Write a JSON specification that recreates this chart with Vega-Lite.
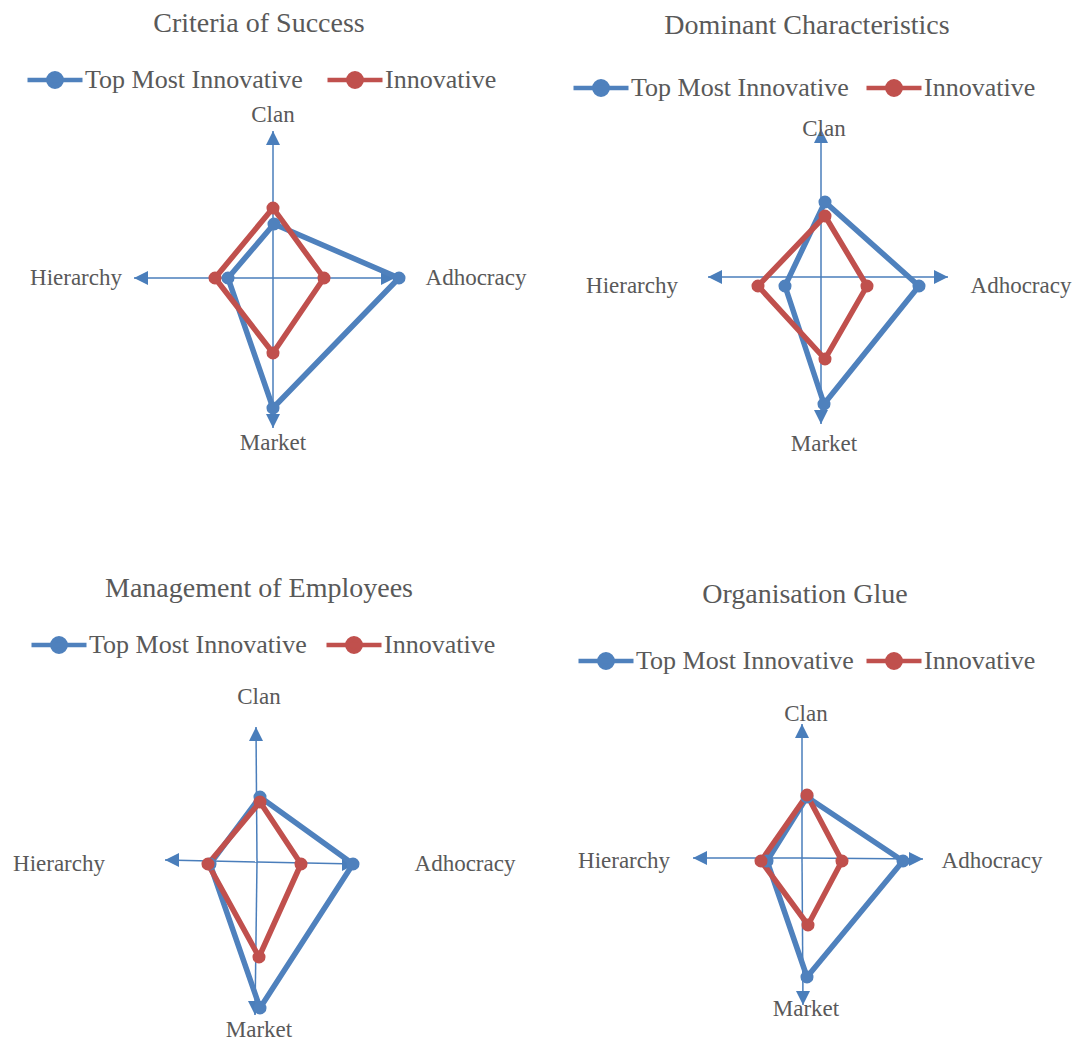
{
  "$schema": "https://vega.github.io/schema/vega-lite/v6.json",
  "padding": {"top": 10, "left": 0, "right": 0, "bottom": 0},
  "background": "white",
  "datasets": {
    "scores": [
      {"panel": "Criteria of Success", "series": "Top Most Innovative", "dimension": "Clan", "x": 1, "y": 54},
      {"panel": "Criteria of Success", "series": "Top Most Innovative", "dimension": "Adhocracy", "x": 126, "y": 0},
      {"panel": "Criteria of Success", "series": "Top Most Innovative", "dimension": "Market", "x": 0, "y": -130},
      {"panel": "Criteria of Success", "series": "Top Most Innovative", "dimension": "Hierarchy", "x": -45, "y": 0},
      {"panel": "Criteria of Success", "series": "Innovative", "dimension": "Clan", "x": 0, "y": 70},
      {"panel": "Criteria of Success", "series": "Innovative", "dimension": "Adhocracy", "x": 51, "y": 0},
      {"panel": "Criteria of Success", "series": "Innovative", "dimension": "Market", "x": 0, "y": -75},
      {"panel": "Criteria of Success", "series": "Innovative", "dimension": "Hierarchy", "x": -58, "y": 0},

      {"panel": "Dominant Characteristics", "series": "Top Most Innovative", "dimension": "Clan", "x": 4, "y": 75},
      {"panel": "Dominant Characteristics", "series": "Top Most Innovative", "dimension": "Adhocracy", "x": 98, "y": -9},
      {"panel": "Dominant Characteristics", "series": "Top Most Innovative", "dimension": "Market", "x": 3, "y": -127},
      {"panel": "Dominant Characteristics", "series": "Top Most Innovative", "dimension": "Hierarchy", "x": -36, "y": -9},
      {"panel": "Dominant Characteristics", "series": "Innovative", "dimension": "Clan", "x": 4, "y": 61},
      {"panel": "Dominant Characteristics", "series": "Innovative", "dimension": "Adhocracy", "x": 46, "y": -9},
      {"panel": "Dominant Characteristics", "series": "Innovative", "dimension": "Market", "x": 4, "y": -82},
      {"panel": "Dominant Characteristics", "series": "Innovative", "dimension": "Hierarchy", "x": -63, "y": -9},

      {"panel": "Management of Employees", "series": "Top Most Innovative", "dimension": "Clan", "x": 3, "y": 65},
      {"panel": "Management of Employees", "series": "Top Most Innovative", "dimension": "Adhocracy", "x": 96, "y": -2},
      {"panel": "Management of Employees", "series": "Top Most Innovative", "dimension": "Market", "x": 3, "y": -146},
      {"panel": "Management of Employees", "series": "Top Most Innovative", "dimension": "Hierarchy", "x": -47, "y": -2},
      {"panel": "Management of Employees", "series": "Innovative", "dimension": "Clan", "x": 3, "y": 60},
      {"panel": "Management of Employees", "series": "Innovative", "dimension": "Adhocracy", "x": 44, "y": -2},
      {"panel": "Management of Employees", "series": "Innovative", "dimension": "Market", "x": 2, "y": -95},
      {"panel": "Management of Employees", "series": "Innovative", "dimension": "Hierarchy", "x": -49, "y": -2},

      {"panel": "Organisation Glue", "series": "Top Most Innovative", "dimension": "Clan", "x": 5, "y": 61},
      {"panel": "Organisation Glue", "series": "Top Most Innovative", "dimension": "Adhocracy", "x": 101, "y": -3},
      {"panel": "Organisation Glue", "series": "Top Most Innovative", "dimension": "Market", "x": 5, "y": -119},
      {"panel": "Organisation Glue", "series": "Top Most Innovative", "dimension": "Hierarchy", "x": -35, "y": -3},
      {"panel": "Organisation Glue", "series": "Innovative", "dimension": "Clan", "x": 5, "y": 63},
      {"panel": "Organisation Glue", "series": "Innovative", "dimension": "Adhocracy", "x": 40, "y": -3},
      {"panel": "Organisation Glue", "series": "Innovative", "dimension": "Market", "x": 6, "y": -67},
      {"panel": "Organisation Glue", "series": "Innovative", "dimension": "Hierarchy", "x": -41, "y": -3}
    ],
    "axisTips": [
      {"panel": "Criteria of Success", "dimension": "Clan", "x": 0, "y": 147},
      {"panel": "Criteria of Success", "dimension": "Adhocracy", "x": 122, "y": 0},
      {"panel": "Criteria of Success", "dimension": "Market", "x": 0, "y": -150},
      {"panel": "Criteria of Success", "dimension": "Hierarchy", "x": -139, "y": 0},
      {"panel": "Dominant Characteristics", "dimension": "Clan", "x": 0, "y": 148},
      {"panel": "Dominant Characteristics", "dimension": "Adhocracy", "x": 127, "y": 0},
      {"panel": "Dominant Characteristics", "dimension": "Market", "x": 0, "y": -147},
      {"panel": "Dominant Characteristics", "dimension": "Hierarchy", "x": -113, "y": 0},
      {"panel": "Management of Employees", "dimension": "Clan", "x": -1, "y": 135},
      {"panel": "Management of Employees", "dimension": "Adhocracy", "x": 99, "y": -2},
      {"panel": "Management of Employees", "dimension": "Market", "x": -2, "y": -153},
      {"panel": "Management of Employees", "dimension": "Hierarchy", "x": -92, "y": 2},
      {"panel": "Organisation Glue", "dimension": "Clan", "x": 0, "y": 134},
      {"panel": "Organisation Glue", "dimension": "Adhocracy", "x": 121, "y": -1},
      {"panel": "Organisation Glue", "dimension": "Market", "x": 1, "y": -147},
      {"panel": "Organisation Glue", "dimension": "Hierarchy", "x": -109, "y": 0}
    ],
    "axisLabels": [
      {"panel": "Criteria of Success", "dimension": "Clan", "x": 0, "y": 163},
      {"panel": "Criteria of Success", "dimension": "Adhocracy", "x": 203, "y": 0},
      {"panel": "Criteria of Success", "dimension": "Market", "x": 0, "y": -165},
      {"panel": "Criteria of Success", "dimension": "Hierarchy", "x": -197, "y": 0},
      {"panel": "Dominant Characteristics", "dimension": "Clan", "x": 3, "y": 148},
      {"panel": "Dominant Characteristics", "dimension": "Adhocracy", "x": 200, "y": -9},
      {"panel": "Dominant Characteristics", "dimension": "Market", "x": 3, "y": -167},
      {"panel": "Dominant Characteristics", "dimension": "Hierarchy", "x": -189, "y": -9},
      {"panel": "Management of Employees", "dimension": "Clan", "x": 2, "y": 165},
      {"panel": "Management of Employees", "dimension": "Adhocracy", "x": 208, "y": -2},
      {"panel": "Management of Employees", "dimension": "Market", "x": 2, "y": -168},
      {"panel": "Management of Employees", "dimension": "Hierarchy", "x": -198, "y": -2},
      {"panel": "Organisation Glue", "dimension": "Clan", "x": 4, "y": 144},
      {"panel": "Organisation Glue", "dimension": "Adhocracy", "x": 190, "y": -3},
      {"panel": "Organisation Glue", "dimension": "Market", "x": 4, "y": -151},
      {"panel": "Organisation Glue", "dimension": "Hierarchy", "x": -178, "y": -3}
    ]
  },
  "config": {
    "view": {"stroke": null},
    "font": "Liberation Serif",
    "title": {"font": "Liberation Serif", "fontSize": 28, "fontWeight": "normal", "color": "#595959", "anchor": "middle"},
    "text": {"font": "Liberation Serif", "fontSize": 23, "color": "#595959"},
    "legend": {
      "orient": "none", "direction": "horizontal", "title": null,
      "symbolType": "M-1,0L1,0M-0.24,0A0.24,0.24 0 1 1 0.24,0A0.24,0.24 0 1 1 -0.24,0Z",
      "symbolSize": 3025, "symbolStrokeWidth": 4.7, "symbolOpacity": 1,
      "labelFont": "Liberation Serif", "labelFontSize": 26, "labelColor": "#595959", "labelLimit": 0,
      "labelOffset": 0, "columnPadding": 15, "padding": 0
    }
  },
  "columns": 2,
  "spacing": {"row": 114, "column": 12},
  "resolve": {
    "scale": {"x": "independent", "y": "independent", "color": "independent", "shape": "independent"},
    "legend": {"color": "independent"}
  },
  "concat": [
    {
      "title": {"text": "Criteria of Success", "dx": -6, "offset": 12},
      "width": 530,
      "height": 358,
      "encoding": {
        "x": {"field": "x", "type": "quantitative", "axis": null, "scale": {"domain": [-273, 257], "nice": false, "zero": false}},
        "y": {"field": "y", "type": "quantitative", "axis": null, "scale": {"domain": [-183, 175], "nice": false, "zero": false}}
      },
      "layer": [
        {
          "data": {"name": "axisTips"},
          "transform": [{"filter": "datum.panel == 'Criteria of Success'"}],
          "mark": {"type": "rule", "color": "#4A7EBB", "strokeWidth": 1.5},
          "encoding": {"x2": {"datum": 0}, "y2": {"datum": 0}}
        },
        {
          "data": {"name": "axisTips"},
          "transform": [{"filter": "datum.panel == 'Criteria of Success'"}],
          "mark": {"type": "point", "filled": true, "opacity": 1, "color": "#4A7EBB", "size": 784},
          "encoding": {
            "shape": {"field": "dimension", "type": "nominal", "legend": null,
              "scale": {"domain": ["Clan", "Adhocracy", "Market", "Hierarchy"],
                "range": ["M0,0L-0.5,1L0.5,1Z", "M0,0L-1,-0.5L-1,0.5Z", "M0,0L-0.5,-1L0.5,-1Z", "M0,0L1,-0.5L1,0.5Z"]}}
          }
        },
        {
          "data": {"name": "scores"},
          "transform": [{"filter": "datum.panel == 'Criteria of Success'"}],
          "mark": {"type": "line", "interpolate": "linear-closed", "strokeWidth": 5.5, "strokeJoin": "round"},
          "encoding": {
            "detail": {"field": "series"},
            "order": {"value": null},
            "color": {"field": "series", "type": "nominal",
              "scale": {"domain": ["Top Most Innovative", "Innovative"], "range": ["#4F81BD", "#C0504D"]},
              "legend": {"legendX": 25, "legendY": -53}}
          }
        },
        {
          "data": {"name": "scores"},
          "transform": [{"filter": "datum.panel == 'Criteria of Success'"}],
          "mark": {"type": "point", "filled": true, "opacity": 1, "size": 170},
          "encoding": {"color": {"field": "series", "type": "nominal"}}
        },
        {
          "data": {"name": "axisLabels"},
          "transform": [{"filter": "datum.panel == 'Criteria of Success'"}],
          "mark": {"type": "text", "align": "center", "baseline": "middle"},
          "encoding": {"text": {"field": "dimension"}}
        }
      ]
    },
    {
      "title": {"text": "Dominant Characteristics", "offset": 18},
      "width": 530,
      "height": 358,
      "encoding": {
        "x": {"field": "x", "type": "quantitative", "axis": null, "scale": {"domain": [-279, 251], "nice": false, "zero": false}},
        "y": {"field": "y", "type": "quantitative", "axis": null, "scale": {"domain": [-184, 174], "nice": false, "zero": false}}
      },
      "layer": [
        {
          "data": {"name": "axisTips"},
          "transform": [{"filter": "datum.panel == 'Dominant Characteristics'"}],
          "mark": {"type": "rule", "color": "#4A7EBB", "strokeWidth": 1.5},
          "encoding": {"x2": {"datum": 0}, "y2": {"datum": 0}}
        },
        {
          "data": {"name": "axisTips"},
          "transform": [{"filter": "datum.panel == 'Dominant Characteristics'"}],
          "mark": {"type": "point", "filled": true, "opacity": 1, "color": "#4A7EBB", "size": 784},
          "encoding": {
            "shape": {"field": "dimension", "type": "nominal", "legend": null,
              "scale": {"domain": ["Clan", "Adhocracy", "Market", "Hierarchy"],
                "range": ["M0,0L-0.5,1L0.5,1Z", "M0,0L-1,-0.5L-1,0.5Z", "M0,0L-0.5,-1L0.5,-1Z", "M0,0L1,-0.5L1,0.5Z"]}}
          }
        },
        {
          "data": {"name": "scores"},
          "transform": [{"filter": "datum.panel == 'Dominant Characteristics'"}],
          "mark": {"type": "line", "interpolate": "linear-closed", "strokeWidth": 5.5, "strokeJoin": "round"},
          "encoding": {
            "detail": {"field": "series"},
            "order": {"value": null},
            "color": {"field": "series", "type": "nominal",
              "scale": {"domain": ["Top Most Innovative", "Innovative"], "range": ["#4F81BD", "#C0504D"]},
              "legend": {"legendX": 29, "legendY": -45, "columnPadding": 8}}
          }
        },
        {
          "data": {"name": "scores"},
          "transform": [{"filter": "datum.panel == 'Dominant Characteristics'"}],
          "mark": {"type": "point", "filled": true, "opacity": 1, "size": 170},
          "encoding": {"color": {"field": "series", "type": "nominal"}}
        },
        {
          "data": {"name": "axisLabels"},
          "transform": [{"filter": "datum.panel == 'Dominant Characteristics'"}],
          "mark": {"type": "text", "align": "center", "baseline": "middle"},
          "encoding": {"text": {"field": "dimension"}}
        }
      ]
    },
    {
      "title": {"text": "Management of Employees", "dx": -6, "offset": 12},
      "width": 530,
      "height": 362,
      "encoding": {
        "x": {"field": "x", "type": "quantitative", "axis": null, "scale": {"domain": [-257, 273], "nice": false, "zero": false}},
        "y": {"field": "y", "type": "quantitative", "axis": null, "scale": {"domain": [-180, 182], "nice": false, "zero": false}}
      },
      "layer": [
        {
          "data": {"name": "axisTips"},
          "transform": [{"filter": "datum.panel == 'Management of Employees'"}],
          "mark": {"type": "rule", "color": "#4A7EBB", "strokeWidth": 1.5},
          "encoding": {"x2": {"datum": 0}, "y2": {"datum": 0}}
        },
        {
          "data": {"name": "axisTips"},
          "transform": [{"filter": "datum.panel == 'Management of Employees'"}],
          "mark": {"type": "point", "filled": true, "opacity": 1, "color": "#4A7EBB", "size": 784},
          "encoding": {
            "shape": {"field": "dimension", "type": "nominal", "legend": null,
              "scale": {"domain": ["Clan", "Adhocracy", "Market", "Hierarchy"],
                "range": ["M0,0L-0.5,1L0.5,1Z", "M0,0L-1,-0.5L-1,0.5Z", "M0,0L-0.5,-1L0.5,-1Z", "M0,0L1,-0.5L1,0.5Z"]}}
          }
        },
        {
          "data": {"name": "scores"},
          "transform": [{"filter": "datum.panel == 'Management of Employees'"}],
          "mark": {"type": "line", "interpolate": "linear-closed", "strokeWidth": 5.5, "strokeJoin": "round"},
          "encoding": {
            "detail": {"field": "series"},
            "order": {"value": null},
            "color": {"field": "series", "type": "nominal",
              "scale": {"domain": ["Top Most Innovative", "Innovative"], "range": ["#4F81BD", "#C0504D"]},
              "legend": {"legendX": 29, "legendY": -65, "columnPadding": 10}}
          }
        },
        {
          "data": {"name": "scores"},
          "transform": [{"filter": "datum.panel == 'Management of Employees'"}],
          "mark": {"type": "point", "filled": true, "opacity": 1, "size": 170},
          "encoding": {"color": {"field": "series", "type": "nominal"}}
        },
        {
          "data": {"name": "axisLabels"},
          "transform": [{"filter": "datum.panel == 'Management of Employees'"}],
          "mark": {"type": "text", "align": "center", "baseline": "middle"},
          "encoding": {"text": {"field": "dimension"}}
        }
      ]
    },
    {
      "title": {"text": "Organisation Glue", "dx": -2, "offset": 22},
      "width": 530,
      "height": 362,
      "encoding": {
        "x": {"field": "x", "type": "quantitative", "axis": null, "scale": {"domain": [-260, 270], "nice": false, "zero": false}},
        "y": {"field": "y", "type": "quantitative", "axis": null, "scale": {"domain": [-184, 178], "nice": false, "zero": false}}
      },
      "layer": [
        {
          "data": {"name": "axisTips"},
          "transform": [{"filter": "datum.panel == 'Organisation Glue'"}],
          "mark": {"type": "rule", "color": "#4A7EBB", "strokeWidth": 1.5},
          "encoding": {"x2": {"datum": 0}, "y2": {"datum": 0}}
        },
        {
          "data": {"name": "axisTips"},
          "transform": [{"filter": "datum.panel == 'Organisation Glue'"}],
          "mark": {"type": "point", "filled": true, "opacity": 1, "color": "#4A7EBB", "size": 784},
          "encoding": {
            "shape": {"field": "dimension", "type": "nominal", "legend": null,
              "scale": {"domain": ["Clan", "Adhocracy", "Market", "Hierarchy"],
                "range": ["M0,0L-0.5,1L0.5,1Z", "M0,0L-1,-0.5L-1,0.5Z", "M0,0L-0.5,-1L0.5,-1Z", "M0,0L1,-0.5L1,0.5Z"]}}
          }
        },
        {
          "data": {"name": "scores"},
          "transform": [{"filter": "datum.panel == 'Organisation Glue'"}],
          "mark": {"type": "line", "interpolate": "linear-closed", "strokeWidth": 5.5, "strokeJoin": "round"},
          "encoding": {
            "detail": {"field": "series"},
            "order": {"value": null},
            "color": {"field": "series", "type": "nominal",
              "scale": {"domain": ["Top Most Innovative", "Innovative"], "range": ["#4F81BD", "#C0504D"]},
              "legend": {"legendX": 34, "legendY": -49, "columnPadding": 3}}
          }
        },
        {
          "data": {"name": "scores"},
          "transform": [{"filter": "datum.panel == 'Organisation Glue'"}],
          "mark": {"type": "point", "filled": true, "opacity": 1, "size": 170},
          "encoding": {"color": {"field": "series", "type": "nominal"}}
        },
        {
          "data": {"name": "axisLabels"},
          "transform": [{"filter": "datum.panel == 'Organisation Glue'"}],
          "mark": {"type": "text", "align": "center", "baseline": "middle"},
          "encoding": {"text": {"field": "dimension"}}
        }
      ]
    }
  ]
}
